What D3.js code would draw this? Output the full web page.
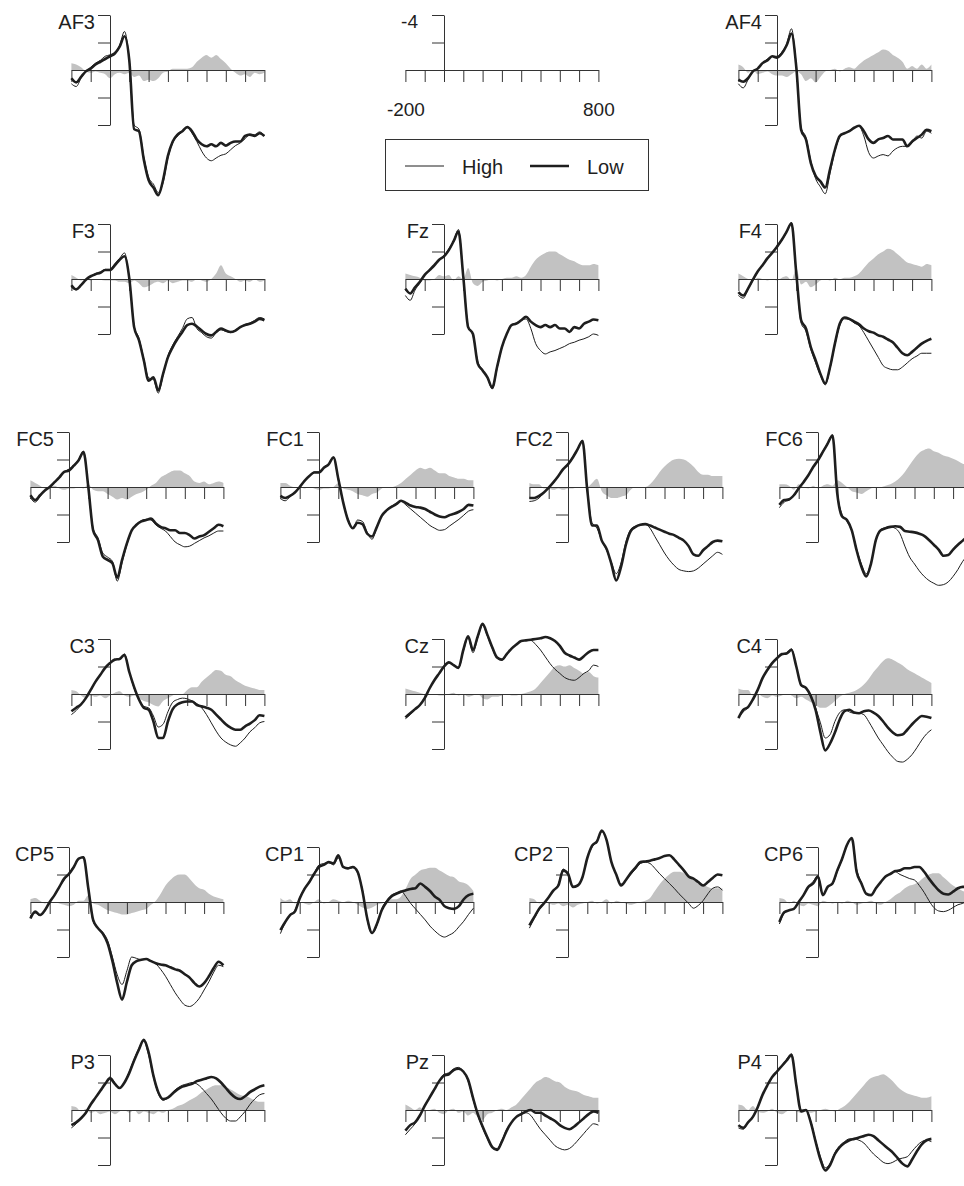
<!doctype html>
<html>
<head>
<meta charset="utf-8">
<title>ERP waveforms High vs Low</title>
<style>
  body { margin: 0; background: #fff; }
  svg text { font-family: "Liberation Sans", Arial, Helvetica, sans-serif; fill: #1e1e1e; }
</style>
</head>
<body>
<div id="chart"></div>
<script src="https://d3js.org/d3.v7.min.js"></script>
<script>
// sample times (ms), one value every 25 ms from -200 to 800
var times = d3.range(-200, 801, 25);
var xTicks = d3.range(-200, 801, 100);
var yTicks = [-4, -2, 2, 4];
var scaleXLabels = {"-200": "-200", "800": "800"};
var scaleYLabel = "-4";
var legendLabels = ["High", "Low"];

// amplitudes in microvolts (negative plotted up); diff = shaded difference wave
var AF3_high = [1.0,1.2,0.6,0.1,-0.2,-0.5,-0.7,-1.0,-1.1,-1.3,-1.8,-2.8,-0.7,4.0,4.3,6.3,7.8,8.3,8.9,8.2,6.4,5.3,4.8,4.5,4.2,4.6,5.2,5.9,6.4,6.6,6.4,6.2,6.1,5.8,5.5,5.3,5.0,4.7,4.7,4.5,4.8];
var AF3_low  = [0.6,0.9,0.5,0.1,-0.1,-0.4,-0.6,-0.8,-1.0,-1.2,-1.7,-2.45,-0.7,4.3,4.45,6.5,8.0,8.55,9.1,8.0,6.25,5.2,4.7,4.45,4.15,4.45,5.05,5.4,5.55,5.4,5.55,5.3,5.5,5.3,5.2,5.2,4.8,4.7,4.8,4.6,4.8];
var AF3_diff = [-0.5,-0.4,-0.2,0.1,0.2,0.1,0.2,0.3,0.6,0.3,0.2,0.3,0.2,0.5,0.4,0.8,0.7,0.8,0.6,0.2,0.1,-0.1,-0.1,-0.1,-0.1,-0.2,-0.6,-0.9,-1.1,-0.9,-1.1,-0.8,-0.5,-0.1,0.2,0.4,0.3,0.5,0.2,0.3,0.2];

var AF4_high = [1.0,1.3,0.7,0.1,-0.1,-0.5,-0.8,-1.0,-1.0,-1.3,-1.9,-3.0,-0.3,4.2,4.9,6.6,7.9,8.5,9.0,7.5,5.9,4.9,4.6,4.4,4.2,4.1,4.8,6.0,6.4,6.25,6.15,6.25,5.9,5.65,5.55,5.55,5.3,4.8,4.95,4.45,4.6];
var AF4_low  = [0.7,0.85,0.6,0.1,-0.1,-0.5,-0.7,-1.0,-0.9,-1.2,-1.8,-2.65,-0.2,4.35,5.05,6.75,7.7,8.1,8.55,7.2,5.8,4.8,4.6,4.45,4.2,4.05,4.45,5.05,5.3,5.05,4.95,4.8,5.05,5.05,5.05,5.55,5.2,4.95,4.7,4.35,4.45];
var AF4_diff = [-0.4,-0.2,0.2,0.0,0.3,0.2,0.1,0.3,0.4,0.4,0.5,0.3,0.1,0.3,0.8,0.6,0.9,0.5,0.1,0.0,-0.1,0.1,-0.1,-0.2,-0.1,-0.4,-0.7,-0.9,-1.1,-1.3,-1.5,-1.4,-1.1,-0.9,-0.6,-0.1,-0.3,-0.1,-0.4,-0.1,-0.4];

var F3_high = [0.6,0.8,0.4,0.0,-0.2,-0.4,-0.5,-0.7,-0.7,-1.1,-1.5,-1.9,0.0,3.4,4.3,5.8,7.2,7.3,8.3,7.0,5.6,4.8,4.2,3.6,2.9,2.8,3.6,3.9,4.2,4.3,3.9,3.7,3.8,3.9,3.7,3.5,3.3,3.2,3.0,2.8,2.9];
var F3_low  = [0.45,0.75,0.45,0.05,-0.2,-0.35,-0.45,-0.65,-0.65,-1.0,-1.4,-1.65,-0.05,3.5,4.45,5.9,7.4,7.15,8.1,6.9,5.7,4.95,4.35,3.85,3.35,3.25,3.45,3.75,4.0,4.1,3.85,3.6,3.75,3.85,3.75,3.5,3.35,3.25,3.1,2.9,3.0];
var F3_diff = [-0.3,-0.1,0.1,0.0,0.1,0.0,0.05,0.1,0.1,0.1,0.2,0.2,0.3,0.1,0.3,0.6,0.5,0.3,0.2,0.3,0.1,0.3,0.2,0.1,0.1,0.2,0.0,0.1,0.2,0.0,-0.4,-1.0,-0.4,-0.2,0.0,0.2,0.1,0.2,0.0,0.2,0.1];

var Fz_high = [1.2,1.55,0.8,0.3,-0.3,-0.7,-1.0,-1.4,-1.7,-2.2,-2.8,-3.6,-0.2,3.4,4.1,6.0,6.6,7.2,8.0,6.5,5.0,4.0,3.3,3.2,3.0,2.9,3.6,4.7,5.2,5.45,5.3,5.2,5.05,4.9,4.7,4.6,4.45,4.35,4.2,4.0,4.1];
var Fz_low  = [0.7,1.05,0.6,0.2,-0.3,-0.65,-1.0,-1.4,-1.65,-2.1,-2.75,-3.45,-0.15,3.5,4.0,6.15,6.65,7.15,7.9,6.4,4.95,4.0,3.35,3.25,3.0,2.75,3.1,3.35,3.5,3.35,3.5,3.35,3.6,3.6,3.85,3.5,3.6,3.25,3.1,2.95,3.0];
var Fz_diff = [-0.4,-0.3,-0.2,-0.1,0.1,0.1,0.0,-0.3,-0.2,-0.3,0.1,-0.2,0.0,-0.8,0.3,0.5,0.2,0.1,0.0,0.1,0.0,-0.1,-0.1,-0.2,-0.1,-0.3,-0.9,-1.4,-1.7,-1.9,-2.0,-2.0,-1.8,-1.6,-1.4,-1.3,-1.1,-1.0,-1.0,-1.1,-1.0];

var F4_high = [1.2,1.4,0.75,0.1,-0.5,-1.0,-1.5,-1.9,-2.3,-2.8,-3.4,-4.1,-0.3,3.2,3.8,5.1,6.1,7.0,7.7,6.5,4.8,3.4,2.9,2.95,3.2,3.4,3.9,4.5,5.1,5.7,6.3,6.5,6.6,6.6,6.4,6.1,5.8,5.6,5.4,5.4,5.4];
var F4_low  = [0.95,1.2,0.7,0.05,-0.55,-1.0,-1.5,-1.9,-2.35,-2.85,-3.45,-4.05,-0.4,3.0,3.6,4.95,5.9,6.9,7.6,6.4,4.7,3.25,2.8,2.9,3.1,3.3,3.6,3.8,3.9,4.1,4.2,4.4,4.6,5.0,5.4,5.55,5.3,5.0,4.7,4.5,4.35];
var F4_diff = [-0.4,-0.2,0.0,0.1,-0.1,0.0,0.1,0.0,0.1,-0.1,-0.2,0.1,-0.8,0.4,0.2,0.6,0.4,0.1,0.0,0.1,-0.1,0.0,-0.1,-0.1,-0.2,-0.4,-0.8,-1.2,-1.5,-1.8,-2.0,-2.2,-2.1,-1.8,-1.5,-1.2,-1.1,-1.0,-0.9,-1.1,-1.0];

var FC5_high = [0.8,1.1,0.7,0.25,0.0,-0.35,-0.7,-1.1,-1.3,-1.6,-2.0,-2.6,0.0,3.0,3.7,4.8,5.1,5.4,6.85,5.5,4.2,3.2,2.7,2.45,2.35,2.4,2.75,3.0,3.2,3.6,4.0,4.2,4.35,4.3,4.1,3.9,3.7,3.55,3.35,3.2,3.2];
var FC5_low  = [0.6,0.95,0.6,0.25,0.0,-0.35,-0.7,-1.1,-1.2,-1.55,-1.95,-2.55,0.0,3.15,3.85,5.05,5.3,5.55,6.6,5.3,4.1,3.15,2.75,2.5,2.4,2.3,2.65,2.9,3.0,3.15,3.15,3.35,3.35,3.5,3.75,3.6,3.5,3.25,3.0,2.75,2.85];
var FC5_diff = [-0.5,-0.3,-0.1,0.1,0.0,-0.1,0.1,0.2,0.1,0.1,0.0,0.1,-0.2,0.2,0.3,0.3,0.5,0.7,0.9,0.8,0.9,0.7,0.5,0.4,0.2,-0.1,-0.3,-0.7,-0.9,-1.1,-1.2,-1.2,-1.0,-0.8,-0.4,-0.3,-0.4,-0.2,-0.3,-0.4,-0.3];

var FC1_high = [0.85,1.0,0.7,0.4,0.0,-0.45,-0.8,-1.1,-1.1,-1.45,-1.7,-2.2,-0.5,1.1,2.3,3.0,2.4,2.5,3.3,3.8,2.9,2.1,1.65,1.4,1.2,1.05,1.3,1.6,1.9,2.2,2.5,2.8,3.0,3.15,3.1,2.85,2.6,2.35,2.05,1.75,1.65];
var FC1_low  = [0.65,0.8,0.65,0.4,0.0,-0.45,-0.8,-1.05,-1.05,-1.4,-1.65,-2.15,-0.6,1.1,2.4,3.0,2.6,2.7,3.4,3.6,2.9,2.1,1.7,1.45,1.25,1.0,1.15,1.35,1.45,1.5,1.6,1.8,2.0,2.15,2.2,2.05,1.95,1.8,1.6,1.3,1.35];
var FC1_diff = [-0.3,-0.3,-0.1,0.0,0.0,0.1,0.0,0.1,0.2,0.1,0.1,0.0,-0.3,0.1,0.2,0.3,0.5,0.6,0.7,0.5,0.4,0.1,0.0,0.0,-0.1,-0.3,-0.6,-0.9,-1.2,-1.4,-1.3,-1.4,-1.2,-1.0,-1.0,-0.8,-0.7,-0.6,-0.6,-0.5,-0.5];

var FC2_high = [1.05,1.0,0.8,0.45,0.1,-0.3,-0.8,-1.3,-1.7,-2.2,-2.8,-3.4,0.3,2.6,3.0,3.9,4.6,5.5,6.3,5.5,4.0,3.1,2.85,2.75,2.7,3.0,3.6,4.2,4.8,5.3,5.7,6.0,6.1,6.15,6.1,5.9,5.6,5.3,5.0,4.75,4.9];
var FC2_low  = [0.8,0.8,0.65,0.4,0.05,-0.35,-0.8,-1.3,-1.65,-2.15,-2.75,-3.35,0.25,2.8,2.8,3.9,4.5,5.6,6.8,5.8,4.2,3.2,2.9,2.75,2.7,2.8,2.95,3.1,3.25,3.4,3.5,3.7,3.9,4.3,4.9,5.0,4.6,4.3,4.0,3.9,3.95];
var FC2_diff = [-0.3,-0.2,-0.2,0.1,0.1,0.2,0.1,0.2,0.1,0.1,0.0,0.0,0.0,-0.3,-0.6,0.3,0.6,0.8,0.8,0.7,0.6,0.2,0.0,0.0,0.0,-0.2,-0.6,-1.1,-1.5,-1.8,-2.0,-2.05,-2.0,-1.8,-1.5,-1.1,-0.9,-0.9,-0.8,-0.8,-0.8];

var FC6_high = [1.5,1.1,0.95,0.6,0.1,-0.35,-0.85,-1.45,-1.95,-2.6,-3.2,-3.8,0.4,2.0,2.5,3.2,4.5,5.6,6.3,5.5,3.9,3.1,2.95,2.9,3.0,3.4,4.3,5.1,5.6,6.1,6.5,6.8,7.0,7.15,7.1,6.9,6.5,6.0,5.4,5.0,4.8];
var FC6_low  = [1.3,0.95,0.9,0.6,0.1,-0.35,-0.85,-1.45,-1.95,-2.55,-3.15,-3.75,0.5,2.15,2.4,3.15,4.6,5.8,6.5,5.55,3.85,3.15,3.0,2.9,2.85,2.9,3.2,3.25,3.3,3.4,3.55,3.85,4.2,4.55,5.0,4.95,4.55,4.2,3.9,3.6,3.5];
var FC6_diff = [-0.2,-0.2,-0.1,0.2,-0.2,0.0,0.1,-0.1,0.1,-0.1,-0.2,-0.1,-0.5,-0.3,0.0,0.3,0.4,0.5,0.3,0.1,0.0,0.0,-0.1,-0.2,-0.4,-0.7,-1.1,-1.6,-2.1,-2.5,-2.7,-2.8,-2.6,-2.5,-2.3,-2.2,-2.05,-1.9,-1.7,-1.6,-1.5];

var C3_high = [1.5,1.2,0.8,0.3,-0.3,-0.9,-1.4,-1.9,-2.3,-2.5,-2.6,-2.9,-1.6,-0.4,0.4,0.9,1.0,1.6,2.4,2.2,1.3,0.6,0.4,0.3,0.35,0.5,0.7,1.0,1.5,2.1,2.7,3.2,3.5,3.7,3.8,3.55,3.2,2.75,2.45,2.1,2.0];
var C3_low  = [1.25,1.0,0.75,0.3,-0.3,-0.9,-1.4,-1.9,-2.25,-2.5,-2.55,-2.85,-1.6,-0.5,0.4,1.0,1.15,2.0,3.2,3.2,2.0,1.1,0.75,0.6,0.55,0.55,0.8,0.9,1.0,1.15,1.5,1.85,2.2,2.45,2.6,2.6,2.35,2.15,1.9,1.55,1.6];
var C3_diff = [-0.3,-0.2,0.1,0.3,0.1,0.2,0.1,0.3,0.1,-0.1,-0.2,0.1,0.2,0.1,0.3,0.5,0.6,0.8,0.9,0.5,0.3,0.1,0.0,0.0,-0.3,-0.5,-0.5,-0.9,-1.2,-1.5,-1.75,-1.7,-1.4,-1.3,-1.0,-0.8,-0.6,-0.5,-0.4,-0.3,-0.3];

var Cz_high = [1.8,1.5,1.1,0.8,0.3,-0.4,-1.0,-1.5,-2.0,-2.3,-2.1,-1.9,-3.1,-4.1,-3.0,-4.1,-5.0,-4.2,-3.3,-2.6,-2.45,-2.85,-3.3,-3.6,-3.85,-3.9,-3.9,-3.6,-3.2,-2.7,-2.2,-1.8,-1.5,-1.2,-1.05,-1.0,-1.2,-1.5,-1.7,-2.1,-2.0];
var Cz_low  = [1.7,1.4,1.1,0.8,0.3,-0.4,-1.0,-1.5,-2.0,-2.3,-2.1,-1.9,-3.2,-4.2,-3.2,-4.2,-5.1,-4.3,-3.4,-2.65,-2.5,-2.9,-3.3,-3.6,-3.85,-3.9,-3.95,-4.0,-4.05,-4.15,-4.05,-3.85,-3.5,-3.0,-2.8,-2.65,-2.5,-2.75,-3.05,-3.2,-3.2];
var Cz_diff = [-0.4,-0.3,-0.2,-0.1,0.0,0.0,0.0,0.1,0.1,0.0,-0.1,0.1,0.0,0.2,0.1,0.0,0.3,0.4,0.2,0.2,0.1,0.0,0.1,0.1,0.0,-0.1,-0.2,-0.4,-0.8,-1.2,-1.6,-2.0,-2.1,-2.0,-2.1,-1.9,-1.7,-1.5,-1.6,-1.3,-1.2];

var C4_high = [1.75,1.3,1.0,0.4,-0.3,-1.15,-1.75,-2.3,-2.6,-2.9,-3.0,-3.3,-2.0,-0.6,-0.4,0.1,1.0,2.1,3.2,2.95,2.0,1.35,1.15,1.3,1.4,1.4,1.5,2.0,2.6,3.2,3.7,4.2,4.6,4.9,4.95,4.75,4.4,3.9,3.35,2.9,2.6];
var C4_low  = [1.75,1.15,0.95,0.4,-0.3,-1.15,-1.75,-2.25,-2.6,-2.9,-2.95,-3.2,-2.0,-0.65,-0.45,0.15,1.15,2.8,4.1,3.6,2.8,1.85,1.25,1.15,1.35,1.4,1.25,1.2,1.35,1.6,2.0,2.45,2.8,3.0,2.95,2.6,2.2,1.85,1.6,1.65,1.75];
var C4_diff = [-0.4,-0.3,-0.3,0.1,0.0,0.2,0.3,0.1,0.2,0.1,0.0,0.1,0.3,0.2,0.4,0.6,0.8,1.0,1.0,0.8,0.5,0.2,0.0,-0.1,-0.2,-0.4,-0.7,-1.1,-1.6,-2.0,-2.4,-2.6,-2.5,-2.3,-2.1,-1.8,-1.6,-1.4,-1.2,-1.0,-0.8];

var CP5_high = [1.0,0.8,1.0,0.6,0.0,-0.5,-1.1,-1.6,-2.1,-2.6,-3.1,-3.3,-1.0,1.4,1.9,2.2,2.8,4.0,5.3,6.0,5.0,4.0,4.1,4.2,4.15,4.3,4.5,4.9,5.4,6.0,6.6,7.1,7.5,7.6,7.4,7.0,6.4,5.8,5.1,4.6,4.7];
var CP5_low  = [1.2,0.7,0.95,0.6,0.0,-0.5,-1.1,-1.7,-2.05,-2.55,-3.15,-3.25,-1.0,1.3,1.9,2.3,3.0,4.3,5.9,7.1,5.8,4.6,4.3,4.2,4.15,4.3,4.45,4.55,4.6,4.75,4.9,5.0,5.25,5.5,5.9,6.15,5.9,5.4,4.8,4.35,4.6];
var CP5_diff = [-0.2,-0.3,-0.1,0.1,0.0,0.0,0.1,0.2,0.3,0.2,-0.1,-0.1,-0.5,0.1,0.2,0.4,0.6,0.7,0.8,0.9,0.9,0.8,0.7,0.6,0.5,0.2,-0.1,-0.6,-1.2,-1.6,-1.9,-2.0,-2.0,-1.7,-1.3,-1.0,-0.9,-0.6,-0.4,-0.3,-0.2];

var CP1_high = [2.3,1.5,1.0,0.6,-0.3,-1.0,-1.5,-2.1,-2.7,-2.8,-2.9,-2.7,-3.2,-2.6,-2.4,-2.5,-2.1,-0.9,1.3,2.3,1.7,0.5,-0.1,-0.5,-0.65,-0.8,-0.4,0.1,0.5,0.9,1.3,1.75,2.1,2.4,2.55,2.4,2.2,1.8,1.4,0.9,0.45];
var CP1_low  = [2.05,1.45,0.95,0.7,-0.25,-0.95,-1.45,-2.05,-2.55,-2.7,-2.9,-2.8,-3.4,-2.55,-2.45,-2.55,-2.2,-0.8,1.2,2.25,1.6,0.6,0.0,-0.4,-0.6,-0.75,-0.85,-0.95,-1.0,-1.35,-1.1,-0.8,-0.4,-0.15,0.3,0.45,0.5,0.3,-0.2,-0.5,-0.6];
var CP1_diff = [-0.3,-0.1,-0.2,0.1,0.0,0.1,0.2,0.0,-0.2,0.1,0.0,-0.2,-0.1,0.0,-0.1,0.0,0.2,0.4,0.5,0.4,0.2,0.1,0.0,-0.2,-0.2,-0.4,-1.0,-1.7,-2.0,-2.3,-2.4,-2.5,-2.5,-2.3,-2.1,-1.9,-1.8,-1.5,-1.4,-1.2,-0.8];

var CP2_high = [1.9,1.2,0.6,0.1,-0.35,-0.85,-1.3,-2.4,-2.0,-1.1,-1.2,-1.8,-3.2,-4.0,-4.4,-5.1,-4.5,-2.9,-2.0,-1.3,-1.6,-2.0,-2.4,-2.8,-2.9,-2.8,-2.45,-2.05,-1.7,-1.35,-1.0,-0.6,-0.25,0.1,0.45,0.25,-0.1,-0.6,-1.0,-1.1,-0.85];
var CP2_low  = [1.7,1.1,0.5,0.1,-0.35,-0.85,-1.2,-2.3,-2.05,-1.1,-1.2,-1.8,-3.2,-4.1,-4.4,-5.2,-4.5,-2.9,-2.0,-1.2,-1.6,-2.1,-2.5,-2.9,-2.95,-3.0,-3.1,-3.2,-3.35,-3.4,-3.1,-2.7,-2.3,-1.85,-1.7,-1.45,-1.2,-1.45,-1.75,-2.0,-1.95];
var CP2_diff = [-0.3,-0.2,0.1,0.0,0.1,0.2,0.1,0.3,0.2,0.4,0.2,0.1,0.0,-0.1,0.1,0.0,-0.2,0.1,-0.1,0.0,0.1,0.2,0.1,0.0,-0.1,-0.3,-0.8,-1.3,-1.7,-2.0,-2.2,-2.2,-2.1,-1.9,-1.6,-1.5,-1.3,-1.1,-1.0,-1.0,-1.0];

var CP6_high = [1.6,0.8,0.6,0.45,0.0,-0.5,-1.1,-1.5,-1.9,-0.5,-1.1,-1.3,-2.2,-3.1,-4.1,-4.6,-2.4,-1.4,-0.6,-0.5,-1.0,-1.45,-1.85,-2.05,-2.2,-2.0,-1.85,-1.7,-1.6,-1.2,-0.7,-0.1,0.4,0.65,0.7,0.6,0.4,0.2,0.1,-0.1,-0.2];
var CP6_low  = [1.45,0.75,0.6,0.5,0.0,-0.5,-1.1,-1.35,-1.85,-0.5,-1.1,-1.35,-2.3,-3.15,-4.15,-4.65,-2.2,-1.35,-0.6,-0.5,-1.0,-1.45,-1.85,-2.05,-2.25,-2.3,-2.45,-2.45,-2.55,-2.55,-2.2,-1.7,-1.25,-0.85,-0.6,-0.55,-0.75,-1.0,-1.1,-1.1,-1.2];
var CP6_diff = [-0.3,-0.2,0.1,-0.1,0.2,0.3,0.1,0.2,0.3,-0.1,0.0,0.1,0.0,0.1,-0.1,0.0,0.2,0.1,0.0,-0.1,0.1,0.2,0.0,-0.2,-0.5,-0.7,-1.0,-1.2,-1.3,-1.5,-1.8,-2.0,-2.1,-2.1,-1.8,-1.5,-1.2,-1.0,-0.8,-0.7,-0.6];

var P3_high = [1.3,1.0,0.6,0.2,-0.4,-0.9,-1.4,-1.9,-2.4,-2.0,-1.6,-2.0,-2.8,-3.7,-4.5,-5.0,-4.0,-2.4,-1.2,-0.7,-0.9,-1.3,-1.6,-1.8,-1.9,-2.0,-1.9,-1.6,-1.2,-0.8,-0.3,0.2,0.6,0.8,0.8,0.5,0.1,-0.4,-0.8,-1.1,-1.2];
var P3_low  = [1.1,0.9,0.6,0.2,-0.4,-0.9,-1.4,-1.9,-2.3,-1.9,-1.6,-2.0,-2.7,-3.6,-4.4,-5.1,-4.2,-2.5,-1.3,-0.8,-0.9,-1.2,-1.5,-1.7,-1.8,-1.9,-2.1,-2.2,-2.3,-2.4,-2.3,-2.0,-1.6,-1.2,-0.9,-0.8,-1.0,-1.3,-1.5,-1.7,-1.8];
var P3_diff = [-0.3,-0.2,0.1,-0.1,0.2,0.1,0.3,0.2,0.1,0.3,0.1,0.0,0.2,0.0,0.3,0.1,0.2,0.3,0.1,0.2,0.0,-0.1,-0.3,-0.4,-0.6,-0.8,-1.0,-1.3,-1.5,-1.7,-1.8,-1.8,-1.7,-1.5,-1.3,-1.1,-1.0,-0.9,-0.7,-0.6,-0.6];

var Pz_high = [1.8,1.4,1.0,0.4,-0.3,-0.9,-1.5,-2.1,-2.6,-2.7,-3.0,-3.1,-2.8,-2.1,-0.8,0.4,1.3,2.1,2.7,2.8,2.2,1.4,0.9,0.5,0.3,0.2,0.4,0.9,1.4,1.8,2.2,2.6,2.8,2.9,2.8,2.5,2.1,1.7,1.3,1.0,1.1];
var Pz_low  = [1.5,1.1,0.9,0.4,-0.3,-0.9,-1.5,-2.1,-2.5,-2.6,-2.9,-3.0,-2.8,-2.2,-0.9,0.3,1.2,2.0,2.7,2.9,2.3,1.5,0.9,0.5,0.3,0.1,0.0,0.2,0.2,0.4,0.6,0.8,1.1,1.3,1.4,1.2,0.9,0.6,0.3,0.1,0.2];
var Pz_diff = [-0.4,-0.2,0.0,-0.2,0.1,0.0,-0.1,0.2,0.3,0.0,-0.1,0.2,0.1,0.4,0.2,0.5,0.7,0.3,0.2,0.0,-0.1,0.0,-0.2,-0.4,-0.8,-1.2,-1.6,-2.0,-2.2,-2.4,-2.3,-2.1,-2.0,-1.7,-1.5,-1.4,-1.3,-1.1,-1.0,-0.9,-0.9];

var P4_high = [1.3,1.4,0.9,0.5,-0.2,-1.1,-1.8,-2.4,-2.8,-3.2,-3.7,-4.1,-1.9,0.0,0.0,0.8,2.2,3.4,4.2,3.9,3.1,2.6,2.3,2.1,2.1,2.2,2.4,2.8,3.2,3.5,3.8,3.9,3.8,3.6,3.5,3.4,3.0,2.6,2.3,2.2,2.3];
var P4_low  = [1.1,1.3,0.9,0.5,-0.2,-1.1,-1.8,-2.4,-2.8,-3.2,-3.6,-4.0,-1.8,0.1,0.0,0.9,2.3,3.6,4.4,4.0,3.2,2.7,2.4,2.2,2.1,2.0,1.9,1.8,1.9,2.2,2.5,2.8,3.1,3.5,3.9,4.1,3.6,3.0,2.5,2.2,2.1];
var P4_diff = [-0.4,-0.3,0.0,-0.3,0.1,0.2,0.1,-0.1,0.2,0.3,0.1,0.0,0.1,0.2,0.1,0.2,0.1,0.0,-0.1,0.0,0.1,-0.1,-0.3,-0.6,-1.0,-1.4,-1.8,-2.2,-2.4,-2.5,-2.6,-2.4,-2.1,-1.7,-1.4,-1.2,-1.1,-1.0,-0.9,-0.9,-1.0];

var channels = ["AF3","AF4","F3","Fz","F4","FC5","FC1","FC2","FC6","C3","Cz","C4","CP5","CP1","CP2","CP6","P3","Pz","P4"];

var series = {
  AF3: [AF3_high, AF3_low, AF3_diff], AF4: [AF4_high, AF4_low, AF4_diff],
  F3: [F3_high, F3_low, F3_diff], Fz: [Fz_high, Fz_low, Fz_diff], F4: [F4_high, F4_low, F4_diff],
  FC5: [FC5_high, FC5_low, FC5_diff], FC1: [FC1_high, FC1_low, FC1_diff],
  FC2: [FC2_high, FC2_low, FC2_diff], FC6: [FC6_high, FC6_low, FC6_diff],
  C3: [C3_high, C3_low, C3_diff], Cz: [Cz_high, Cz_low, Cz_diff], C4: [C4_high, C4_low, C4_diff],
  CP5: [CP5_high, CP5_low, CP5_diff], CP1: [CP1_high, CP1_low, CP1_diff],
  CP2: [CP2_high, CP2_low, CP2_diff], CP6: [CP6_high, CP6_low, CP6_diff],
  P3: [P3_high, P3_low, P3_diff], Pz: [Pz_high, Pz_low, Pz_diff], P4: [P4_high, P4_low, P4_diff]
};

// where each panel's origin (0 ms, 0 uV) sits on the page
var rowY = [70, 279, 487, 694, 902, 1110];
var col3 = [110, 444, 777];
var col4 = [69, 319, 568, 818];
var layout = {
  AF3: [col3[0], rowY[0]], AF4: [col3[2], rowY[0]],
  F3: [col3[0], rowY[1]], Fz: [col3[1], rowY[1]], F4: [col3[2], rowY[1]],
  FC5: [col4[0], rowY[2]], FC1: [col4[1], rowY[2]], FC2: [col4[2], rowY[2]], FC6: [col4[3], rowY[2]],
  C3: [col3[0], rowY[3]], Cz: [col3[1], rowY[3]], C4: [col3[2], rowY[3]],
  CP5: [col4[0], rowY[4]], CP1: [col4[1], rowY[4]], CP2: [col4[2], rowY[4]], CP6: [col4[3], rowY[4]],
  P3: [col3[0], rowY[5]], Pz: [col3[1], rowY[5]], P4: [col3[2], rowY[5]]
};

var W = 964, H = 1186;
var pxPerMs = 0.193;   // 1000 ms -> 193 px
var pxPerUv = 13.75;   // 4 uV -> 55 px
var ink = "#1e1e1e";
var axisInk = "#333";

var svg = d3.select("#chart").append("svg")
    .attr("width", W).attr("height", H);

function xScaleAt(x0) {
  return d3.scaleLinear().domain([-200, 800])
      .range([x0 - 200 * pxPerMs, x0 + 800 * pxPerMs]);
}

function drawPanel(name, x0, y0, high, low, diff) {
  var x = xScaleAt(x0);
  var y = d3.scaleLinear().domain([-4, 4]).range([y0 - 4 * pxPerUv, y0 + 4 * pxPerUv]);
  var g = svg.append("g").attr("class", "panel");

  // shaded difference wave
  var area = d3.area()
      .x(function(d, i) { return x(times[i]); })
      .y0(y(0))
      .y1(function(d) { return y(d); })
      .curve(d3.curveMonotoneX);
  g.append("path").datum(diff)
      .attr("fill", "#c2c2c2")
      .attr("d", area);

  g.append("g")
      .attr("transform", "translate(0," + y0 + ")")
      .style("color", axisInk)
      .call(d3.axisBottom(x).tickValues(xTicks).tickSize(12).tickSizeOuter(0).tickFormat(""));

  g.append("g")
      .attr("transform", "translate(" + x0 + ",0)")
      .style("color", axisInk)
      .call(d3.axisLeft(y).tickValues(yTicks).tickSize(12).tickSizeOuter(0).tickFormat(""));

  g.append("text")
      .attr("x", x0 - 15)
      .attr("y", y(-4) + 14)
      .attr("text-anchor", "end")
      .style("font-size", "20px")
      .text(name);

  var line = d3.line()
      .x(function(d, i) { return x(times[i]); })
      .y(function(d) { return y(d); })
      .curve(d3.curveMonotoneX);

  g.append("path").datum(high)
      .attr("fill", "none").attr("stroke", ink).attr("stroke-width", 1)
      .attr("d", line);
  g.append("path").datum(low)
      .attr("fill", "none").attr("stroke", ink).attr("stroke-width", 2.6)
      .attr("stroke-linejoin", "round")
      .attr("d", line);
}

channels.forEach(function(ch) {
  var pos = layout[ch];
  var s = series[ch];
  drawPanel(ch, pos[0], pos[1], s[0], s[1], s[2]);
});

// calibration panel with scale labels
(function() {
  var x0 = 444, y0 = 70;
  var x = xScaleAt(x0);
  var y = d3.scaleLinear().domain([-4, 0]).range([y0 - 4 * pxPerUv, y0]);
  var g = svg.append("g").attr("class", "scale");

  var xa = g.append("g")
      .attr("transform", "translate(0," + y0 + ")")
      .style("color", axisInk)
      .call(d3.axisBottom(x).tickValues(xTicks).tickSize(12).tickSizeOuter(0).tickPadding(21)
        .tickFormat(function(d) { return scaleXLabels[d] || ""; }));
  xa.selectAll("text").style("font-size", "19px").attr("fill", ink)
      .style("font-family", "'Liberation Sans', Arial, sans-serif");

  g.append("g")
      .attr("transform", "translate(" + x0 + ",0)")
      .style("color", axisInk)
      .call(d3.axisLeft(y).tickValues([-4, -2]).tickSize(12).tickSizeOuter(0).tickFormat(""));

  g.append("text")
      .attr("x", x0 - 26)
      .attr("y", y(-4) + 13)
      .attr("text-anchor", "end")
      .style("font-size", "19px")
      .text(scaleYLabel);

  // legend
  var lg = svg.append("g").attr("class", "legend");
  lg.append("rect")
      .attr("x", 385.5).attr("y", 139.5).attr("width", 263).attr("height", 51)
      .attr("fill", "none").attr("stroke", axisInk).attr("stroke-width", 1);
  var items = [
    {label: legendLabels[0], w: 1, x: 405},
    {label: legendLabels[1], w: 2.6, x: 530}
  ];
  items.forEach(function(it) {
    lg.append("line")
        .attr("x1", it.x).attr("x2", it.x + 39)
        .attr("y1", 166).attr("y2", 166)
        .attr("stroke", ink).attr("stroke-width", it.w);
    lg.append("text")
        .attr("x", it.x + 57).attr("y", 174)
        .style("font-size", "20px")
        .text(it.label);
  });
})();
</script>
</body>
</html>
